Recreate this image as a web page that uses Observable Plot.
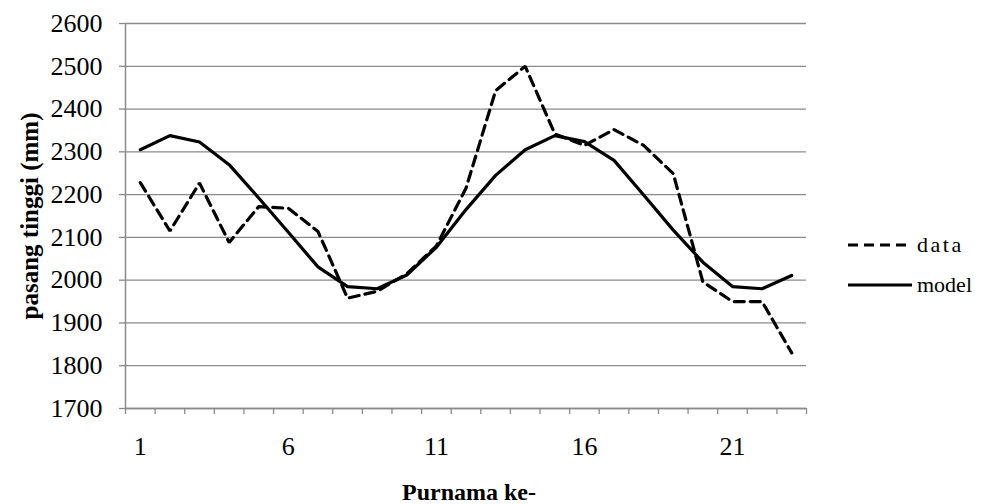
<!DOCTYPE html>
<html>
<head>
<meta charset="utf-8">
<script src="https://cdn.jsdelivr.net/npm/d3@7"></script>
<script src="https://cdn.jsdelivr.net/npm/@observablehq/plot@0.6"></script>
<style>
  html, body { margin: 0; padding: 0; background: #fff; }
  #wrap { position: relative; width: 987px; height: 504px; font-family: "Liberation Serif", "Times New Roman", serif; }
  #legend { position: absolute; left: 848px; top: 225px; font-size: 22px; color: #000; }
  #legend .row { display: flex; align-items: center; height: 40px; }
  #legend svg { margin-right: 3px; }
</style>
</head>
<body>
<div id="wrap"></div>
<script>
const purnama = d3.range(1, 24);
const dataValues = [2228, 2115, 2227, 2088, 2172, 2168, 2114, 1958, 1974, 2015, 2080, 2215, 2443, 2500, 2342, 2315, 2352, 2315, 2249, 1996, 1950, 1950, 1830];
const modelValues = [2305, 2338, 2323, 2270, 2192, 2112, 2031, 1985, 1980, 2012, 2077, 2165, 2245, 2305, 2338, 2324, 2280, 2199, 2117, 2042, 1985, 1980, 2011];
const xTickLabels = [1, 6, 11, 16, 21];
const yTicks = d3.range(1700, 2601, 100);
const seriesNames = ["data", "model"];
const yTitle = "pasang tinggi (mm)";
const xTitle = "Purnama ke-";

const serif = '"Liberation Serif", "Times New Roman", serif';
const rows = [];
purnama.forEach((p, i) => {
  rows.push({p, v: dataValues[i], s: seriesNames[0]});
  rows.push({p, v: modelValues[i], s: seriesNames[1]});
});
const boundaries = d3.range(0.5, purnama.length + 1, 1);
const gray = "#8a8a8a";

const chart = Plot.plot({
  width: 987,
  height: 504,
  marginLeft: 125,
  marginRight: 181,
  marginTop: 23,
  marginBottom: 96,
  style: { fontFamily: serif, fontSize: "26px", color: "#000", background: "#fff" },
  x: { domain: [0.5, purnama.length + 0.5] },
  y: { domain: [1700, 2600] },
  marks: [
    Plot.gridY(yTicks, { stroke: gray, strokeOpacity: 1, strokeWidth: 1.3 }),
    Plot.axisY(yTicks, { tickSize: 6, tickPadding: 17, stroke: gray, strokeWidth: 1.3, label: null, fontFamily: serif, fontSize: 26, tickFormat: d => String(d) }),
    Plot.axisX(boundaries, { tickSize: 6, tickFormat: () => "", stroke: gray, strokeWidth: 1.3, label: null }),
    Plot.axisX(xTickLabels, { tickSize: 0, tickPadding: 28, label: null, fontFamily: serif, fontSize: 26, tickFormat: d => String(d) }),
    Plot.ruleX([0.5], { stroke: gray, strokeWidth: 1.5 }),
    Plot.ruleY([1700], { stroke: gray, strokeWidth: 1.5 }),
    Plot.line(rows.filter(d => d.s === "model"), { x: "p", y: "v", stroke: "#000", strokeWidth: 3.2, strokeLinejoin: "miter" }),
    Plot.line(rows.filter(d => d.s === "data"), { x: "p", y: "v", stroke: "#000", strokeWidth: 3.2, strokeDasharray: "10,6", strokeLinejoin: "miter" }),
    Plot.text([yTitle], { frameAnchor: "left", dx: -96, dy: 0, rotate: -90, fontFamily: serif, fontWeight: "bold", fontSize: 25, lineAnchor: "middle", textAnchor: "middle" }),
    Plot.text([xTitle], { frameAnchor: "bottom", dy: 84, dx: 3, fontFamily: serif, fontWeight: "bold", fontSize: 24, lineAnchor: "middle", textAnchor: "middle" })
  ]
});
const wrap = document.getElementById("wrap");
wrap.appendChild(chart);

const legend = document.createElement("div");
legend.id = "legend";
legend.innerHTML = seriesNames.map((name, i) => `
  <div class="row">
    <svg width="66" height="8"><line x1="0" y1="4" x2="64" y2="4" stroke="#000" stroke-width="3.2" ${i === 0 ? 'stroke-dasharray="10,6"' : ''}/></svg>
    <span style="letter-spacing:${i === 0 ? '2.5px' : '0'}">${name}</span>
  </div>`).join("");
wrap.appendChild(legend);
</script>
</body>
</html>
